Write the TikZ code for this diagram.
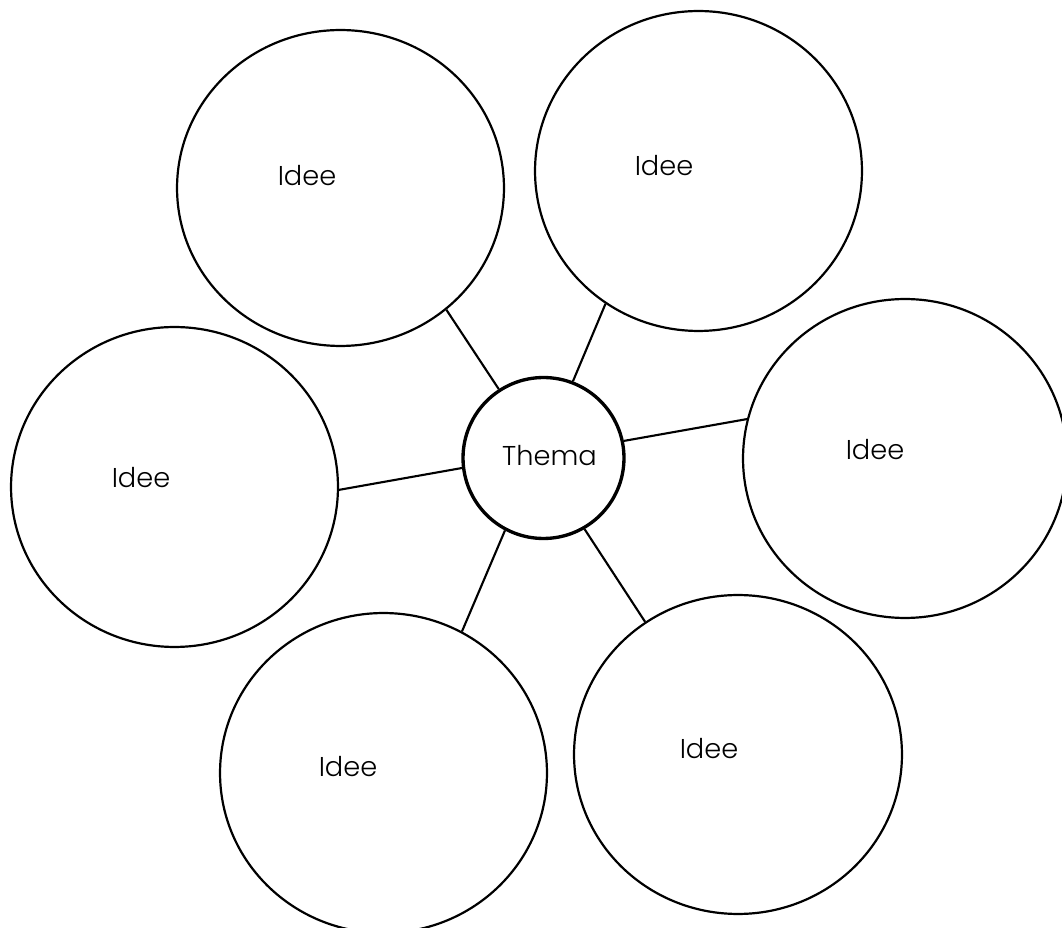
\documentclass[tikz,border=0pt]{standalone}
\usepackage{fontspec}
\setmainfont{Poppins Light}
\usetikzlibrary{shapes.geometric}
\begin{document}
\begin{tikzpicture}[x=0.02cm,y=-0.02cm,
  idea/.style={ellipse,draw,line width=1.25pt,inner sep=0pt},
  thema/.style={circle,draw,line width=1.9pt,inner sep=0pt,minimum size=3.22cm},
  lbl/.style={font=\fontsize{15.5}{18}\selectfont,inner sep=0pt,anchor=base},
  link/.style={line width=1.2pt}]
\useasboundingbox (0,0) rectangle (1062,928);
% idea ellipses
\node[idea,minimum width=6.54cm,minimum height=6.32cm] (tl) at (340.5,188) {};
\node[idea,minimum width=6.54cm,minimum height=6.40cm] (tr) at (698.5,171) {};
\node[idea,minimum width=6.54cm,minimum height=6.40cm] (le) at (174.5,487) {};
\node[idea,minimum width=6.48cm,minimum height=6.38cm] (ri) at (905,458.5) {};
\node[idea,minimum width=6.54cm,minimum height=6.40cm] (bl) at (383.5,773) {};
\node[idea,minimum width=6.56cm,minimum height=6.38cm] (br) at (738,754.5) {};
% central topic
\node[thema] (th) at (543.5,458) {};
% labels
\node[lbl] (thl) at (549.5,466) {Thema};
\node[lbl] (tll) at (307,186) {Idee};
\node[lbl] (trl) at (664,176) {Idee};
\node[lbl] (lel) at (141,488) {Idee};
\node[lbl] (ril) at (875,460) {Idee};
\node[lbl] (bll) at (348,777) {Idee};
\node[lbl] (brl) at (709,759) {Idee};
% connectors
\draw[link] (th.123.8) -- (tl.311.9);
\draw[link] (th.69) -- (tr.235.1);
\draw[link] (th.12.6) -- (ri.166);
\draw[link] (th.187.8) -- (le.-1.75);
\draw[link] (th.242.5) -- (bl.61.3);
\draw[link] (th.300) -- (br.125.9);
\end{tikzpicture}
\end{document}
